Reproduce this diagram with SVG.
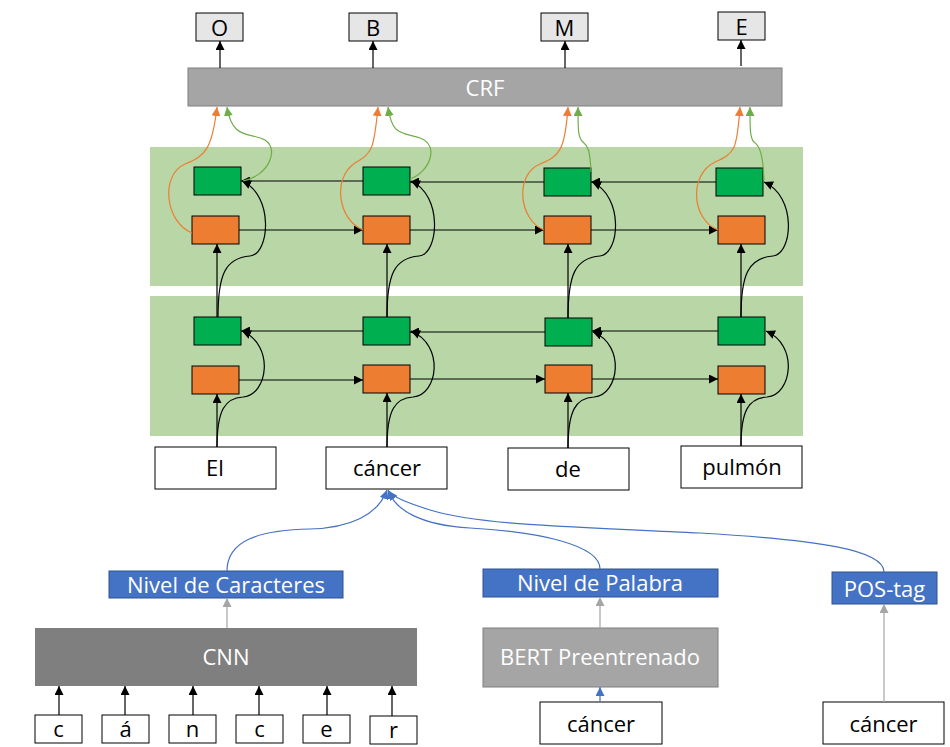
<svg xmlns="http://www.w3.org/2000/svg" width="950" height="747" viewBox="0 0 950 747">
<style>
text{font-family:"Open Sans","Noto Sans",sans-serif;font-size:22px;text-anchor:middle;fill:#000}
.w{fill:#fff}
.out{fill:#e6e6e6;stroke:#000;stroke-width:1}
.box{fill:#fff;stroke:#000;stroke-width:1}
.band{fill:#b8d6a6}
.g{fill:#00b050;stroke:#000;stroke-width:1}
.o{fill:#ed7d31;stroke:#000;stroke-width:1}
.blue{fill:#4472c4;stroke:#2f528f;stroke-width:1}
.k{fill:none;stroke:#000;stroke-width:1.2}
.ko{fill:none;stroke:#ed7d31;stroke-width:1.2}
.kg{fill:none;stroke:#70ad47;stroke-width:1.2}
.kb{fill:none;stroke:#4472c4;stroke-width:1.2}
.kgr{fill:none;stroke:#a5a5a5;stroke-width:1.2}
</style>
<defs>
<marker id="mk" viewBox="0 0 10 10" refX="10" refY="5" markerWidth="9" markerHeight="9" orient="auto" markerUnits="userSpaceOnUse"><path d="M0,0 L10,5 L0,10 z" fill="#000"/></marker>
<marker id="mo" viewBox="0 0 10 10" refX="10" refY="5" markerWidth="9" markerHeight="9" orient="auto" markerUnits="userSpaceOnUse"><path d="M0,0 L10,5 L0,10 z" fill="#ed7d31"/></marker>
<marker id="mg" viewBox="0 0 10 10" refX="10" refY="5" markerWidth="9" markerHeight="9" orient="auto" markerUnits="userSpaceOnUse"><path d="M0,0 L10,5 L0,10 z" fill="#70ad47"/></marker>
<marker id="mb" viewBox="0 0 10 10" refX="10" refY="5" markerWidth="9" markerHeight="9" orient="auto" markerUnits="userSpaceOnUse"><path d="M0,0 L10,5 L0,10 z" fill="#4472c4"/></marker>
<marker id="mgr" viewBox="0 0 10 10" refX="10" refY="5" markerWidth="9" markerHeight="9" orient="auto" markerUnits="userSpaceOnUse"><path d="M0,0 L10,5 L0,10 z" fill="#a5a5a5"/></marker>
</defs>

<g id="bands">
<rect class="band" x="150" y="147" width="653" height="139"/>
<rect class="band" x="150" y="296" width="653" height="140"/>
</g>

<g id="outputs">
<g id="out-O"><rect class="out" x="196" y="13" width="47" height="28"/><text x="219.5" y="36">O</text></g>
<g id="out-B"><rect class="out" x="349" y="13" width="48" height="28"/><text x="373" y="36">B</text></g>
<g id="out-M"><rect class="out" x="541" y="13" width="47" height="28"/><text x="564.5" y="36">M</text></g>
<g id="out-E"><rect class="out" x="718" y="12" width="47" height="28"/><text x="741.5" y="35">E</text></g>
</g>

<g id="crf"><rect x="188" y="68" width="594" height="38" fill="#a5a5a5" stroke="#7f7f7f" stroke-width="1"/><text class="w" x="485" y="96">CRF</text></g>

<g id="cells-top">
<rect class="g" x="194" y="167" width="47" height="28"/><rect class="o" x="192" y="216" width="47" height="28"/>
<rect class="g" x="363" y="167" width="47" height="28"/><rect class="o" x="363" y="216" width="47" height="28"/>
<rect class="g" x="544" y="168" width="47" height="28"/><rect class="o" x="544" y="216" width="47" height="28"/>
<rect class="g" x="716" y="168" width="47" height="28"/><rect class="o" x="718" y="216" width="47" height="28"/>
</g>
<g id="cells-bottom">
<rect class="g" x="194" y="317" width="47" height="28"/><rect class="o" x="192" y="366" width="47" height="28"/>
<rect class="g" x="363" y="317" width="47" height="28"/><rect class="o" x="363" y="365" width="47" height="28"/>
<rect class="g" x="545" y="318" width="47" height="28"/><rect class="o" x="545" y="365" width="47" height="28"/>
<rect class="g" x="718" y="317" width="47" height="28"/><rect class="o" x="718" y="366" width="47" height="28"/>
</g>

<g id="words">
<g id="w-El"><rect class="box" x="155" y="447" width="121" height="42"/><text x="215" y="476">El</text></g>
<g id="w-cancer"><rect class="box" x="326" y="447" width="121" height="42"/><text x="387" y="476">cáncer</text></g>
<g id="w-de"><rect class="box" x="508" y="448" width="121" height="42"/><text x="568" y="477">de</text></g>
<g id="w-pulmon"><rect class="box" x="681" y="446" width="121" height="42"/><text x="742" y="475">pulmón</text></g>
</g>

<g id="features">
<g id="nivel-car"><rect class="blue" x="109" y="571" width="234" height="27"/><text class="w" x="226" y="593">Nivel de Caracteres</text></g>
<g id="cnn"><rect x="35" y="628" width="382" height="58" fill="#7f7f7f"/><text class="w" x="226" y="665">CNN</text></g>
<g id="chars">
<rect class="box" x="35" y="715" width="47" height="28"/><text x="58.5" y="737">c</text>
<rect class="box" x="102" y="715" width="47" height="28"/><text x="125.5" y="737">á</text>
<rect class="box" x="169" y="715" width="47" height="28"/><text x="192.5" y="737">n</text>
<rect class="box" x="236" y="715" width="47" height="28"/><text x="259.5" y="737">c</text>
<rect class="box" x="303" y="715" width="47" height="28"/><text x="326.5" y="737">e</text>
<rect class="box" x="370" y="716" width="47" height="28"/><text x="393.5" y="738">r</text>
</g>
<g id="nivel-pal"><rect class="blue" x="483" y="569" width="235" height="28"/><text class="w" x="600" y="591">Nivel de Palabra</text></g>
<g id="bert"><rect x="483" y="628" width="235" height="59" fill="#a5a5a5" stroke="#7f7f7f" stroke-width="1"/><text class="w" x="600" y="665">BERT Preentrenado</text></g>
<g id="bert-in"><rect class="box" x="540" y="702" width="122" height="42"/><text x="601" y="732">cáncer</text></g>
<g id="pos"><rect class="blue" x="832" y="572" width="105" height="32"/><text class="w" x="884.5" y="597">POS-tag</text></g>
<g id="pos-in"><rect class="box" x="823" y="702" width="121" height="42"/><text x="883.5" y="732">cáncer</text></g>
</g>

<g id="connectors">
<!-- CRF to outputs -->
<path class="k" d="M220,68 V41" marker-end="url(#mk)"/>
<path class="k" d="M373,68 V41" marker-end="url(#mk)"/>
<path class="k" d="M565,68 V41" marker-end="url(#mk)"/>
<path class="k" d="M741,66 V40" marker-end="url(#mk)"/>

<!-- bottom band: inputs -->
<path class="k" d="M217,447 V394" marker-end="url(#mk)"/>
<path class="k" d="M387,447 V393" marker-end="url(#mk)"/>
<path class="k" d="M568,448 V393" marker-end="url(#mk)"/>
<path class="k" d="M741,446 V394" marker-end="url(#mk)"/>
<path class="k" d="M217,447 C217,410 225,398 243,397 C268,395 275,345 242,331" marker-end="url(#mk)"/>
<path class="k" d="M387,447 C387,410 395,398 413,397 C438,395 445,345 411,331" marker-end="url(#mk)"/>
<path class="k" d="M568,448 C568,410 576,398 594,397 C619,395 626,345 593,332" marker-end="url(#mk)"/>
<path class="k" d="M741,446 C741,410 749,398 767,397 C792,395 799,345 766,331" marker-end="url(#mk)"/>
<!-- bottom band horizontals -->
<path class="k" d="M239,380 H363" marker-end="url(#mk)"/>
<path class="k" d="M410,379 H545" marker-end="url(#mk)"/>
<path class="k" d="M592,379 H718" marker-end="url(#mk)"/>
<path class="k" d="M363,331 H241" marker-end="url(#mk)"/>
<path class="k" d="M545,332 H410" marker-end="url(#mk)"/>
<path class="k" d="M718,331 H592" marker-end="url(#mk)"/>

<!-- top band: inputs -->
<path class="k" d="M217,317 V244" marker-end="url(#mk)"/>
<path class="k" d="M387,317 V244" marker-end="url(#mk)"/>
<path class="k" d="M568,318 V244" marker-end="url(#mk)"/>
<path class="k" d="M741,317 V244" marker-end="url(#mk)"/>
<path class="k" d="M218,317 C218,275 225,258 250,256 C270,254 274,195 242,181" marker-end="url(#mk)"/>
<path class="k" d="M387,317 C387,275 394,258 419,256 C439,254 443,195 411,181" marker-end="url(#mk)"/>
<path class="k" d="M568,318 C568,275 575,258 600,256 C620,254 624,196 592,182" marker-end="url(#mk)"/>
<path class="k" d="M741,317 C741,275 748,258 773,256 C793,254 797,196 764,182" marker-end="url(#mk)"/>
<!-- top band horizontals -->
<path class="k" d="M239,230 H363" marker-end="url(#mk)"/>
<path class="k" d="M410,230 H544" marker-end="url(#mk)"/>
<path class="k" d="M591,230 H718" marker-end="url(#mk)"/>
<path class="k" d="M363,181 H241" marker-end="url(#mk)"/>
<path class="k" d="M544,182 H410" marker-end="url(#mk)"/>
<path class="k" d="M716,182 H591" marker-end="url(#mk)"/>

<!-- to CRF -->
<path class="ko" d="M192,233 C165,222 160,175 185,164 C205,156 212,150 217,107" marker-end="url(#mo)"/>
<path class="ko" d="M363,230 C338,220 332,178 355,163 C372,153 374,150 378,107" marker-end="url(#mo)"/>
<path class="ko" d="M544,230 C519,220 514,175 540,164 C560,156 565,150 568,107" marker-end="url(#mo)"/>
<path class="ko" d="M718,230 C692,220 688,175 715,162 C735,153 737,150 740,107" marker-end="url(#mo)"/>
<path class="kg" d="M243,181 C268,176 280,150 265,140 C250,132 232,140 227,107" marker-end="url(#mg)"/>
<path class="kg" d="M410,179 C430,172 440,145 420,138 C400,132 392,135 388,107" marker-end="url(#mg)"/>
<path class="kg" d="M591,172 C590,150 588,146 583,142 C578,138 578,130 578,107" marker-end="url(#mg)"/>
<path class="kg" d="M764,180 C763,155 760,146 754,142 C750,138 750,130 750,107" marker-end="url(#mg)"/>

<!-- features -->
<path class="kb" d="M227,571 C227,540 260,530 310,529 C350,528 378,515 387,490" marker-end="url(#mb)"/>
<path class="kb" d="M600,569 C600,545 540,532 470,528 C420,525 395,510 388,490" marker-end="url(#mb)"/>
<path class="kb" d="M884,572 C884,550 820,540 700,533 C560,526 480,525 430,510 C405,502 393,497 389,491" marker-end="url(#mb)"/>
<path class="kgr" d="M227,628 V598" marker-end="url(#mgr)"/>
<path class="kgr" d="M600,628 V597" marker-end="url(#mgr)"/>
<path class="kgr" d="M884,702 V604" marker-end="url(#mgr)"/>
<path class="kb" d="M600,702 V687" marker-end="url(#mb)"/>
<path class="k" d="M59,715 V686" marker-end="url(#mk)"/>
<path class="k" d="M125,715 V686" marker-end="url(#mk)"/>
<path class="k" d="M193,715 V686" marker-end="url(#mk)"/>
<path class="k" d="M259,715 V686" marker-end="url(#mk)"/>
<path class="k" d="M327,715 V686" marker-end="url(#mk)"/>
<path class="k" d="M392,716 V686" marker-end="url(#mk)"/>
</g>
</svg>
